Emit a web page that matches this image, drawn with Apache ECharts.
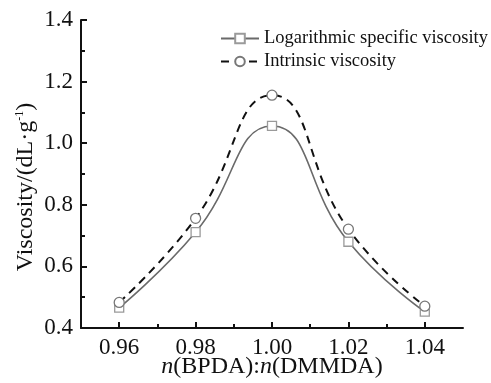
<!DOCTYPE html>
<html>
<head>
<meta charset="utf-8">
<script src="https://cdn.jsdelivr.net/npm/echarts@6/dist/echarts.min.js"></script>
<style>
  html, body { margin: 0; padding: 0; background: #fff; }
  #chart { width: 491px; height: 383px; }
</style>
</head>
<body>
<div id="chart"></div>
<script>
// molar ratios on the x axis
const ratios = [0.96, 0.98, 1.00, 1.02, 1.04];
// viscosity values (dL/g)
const logSpecific = [0.466, 0.711, 1.056, 0.680, 0.453];
const intrinsic = [0.483, 0.756, 1.156, 0.721, 0.471];
const xLabels = [0.96, 0.98, 1.00, 1.02, 1.04];
const xMinor = [0.97, 0.99, 1.01, 1.03];

const serif = "'Liberation Serif', 'Times New Roman', serif";

const myChart = echarts.init(document.getElementById('chart'));

let option = {
    animation: false,
    backgroundColor: '#fff',
    grid: {
        left: 81,
        top: 20,
        right: 28,
        bottom: 55,
        containLabel: false,
        outerBoundsMode: 'none'
    },
    legend: {
        left: 215,
        top: 24,
        orient: 'vertical',
        itemWidth: 38,
        itemHeight: 12,
        itemGap: 4,
        textStyle: {
            fontFamily: serif,
            fontSize: 18.5,
            color: '#111'
        },
        data: ['Logarithmic specific viscosity', 'Intrinsic viscosity']
    },
    xAxis: [
        {
            type: 'value',
            min: 0.95,
            max: 1.05,
            name: '{i|n}(BPDA):{i|n}(DMMDA)',
            nameLocation: 'middle',
            nameGap: 27,
            nameMoveOverlap: false,
            nameTextStyle: {
                fontFamily: serif,
                fontSize: 24,
                color: '#111',
                rich: {
                    i: { fontFamily: serif, fontSize: 24, fontStyle: 'italic', color: '#111' }
                }
            },
            splitLine: { show: false },
            axisLine: { lineStyle: { color: '#111', width: 2 } },
            axisTick: {
                inside: true,
                length: 6,
                customValues: xLabels,
                lineStyle: { color: '#111', width: 2 }
            },
            axisLabel: {
                customValues: xLabels,
                formatter: v => v.toFixed(2),
                fontFamily: serif,
                fontSize: 23,
                color: '#111',
                margin: 8
            }
        },
        {
            // minor ticks only
            type: 'value',
            min: 0.95,
            max: 1.05,
            position: 'bottom',
            splitLine: { show: false },
            axisLine: { show: false },
            axisTick: {
                inside: true,
                length: 4,
                customValues: xMinor,
                lineStyle: { color: '#111', width: 2 }
            },
            axisLabel: { show: false }
        }
    ],
    yAxis: {
        type: 'value',
        min: 0.4,
        max: 1.4,
        interval: 0.2,
        name: 'Viscosity/(dL·g{sup|-1})',
        nameLocation: 'middle',
        nameGap: 43,
        nameMoveOverlap: false,
        nameTextStyle: {
            fontFamily: serif,
            fontSize: 24,
            color: '#111',
            padding: [0, 26, 0, 0],
            rich: {
                sup: { fontFamily: serif, fontSize: 12, color: '#111', verticalAlign: 'top' }
            }
        },
        splitLine: { show: false },
        axisLine: { show: true, lineStyle: { color: '#111', width: 2 } },
        axisTick: {
            inside: true,
            length: 6,
            lineStyle: { color: '#111', width: 2 }
        },
        minorTick: {
            show: true,
            splitNumber: 2,
            length: 4,
            lineStyle: { color: '#111', width: 2 }
        },
        axisLabel: {
            formatter: v => v.toFixed(1),
            fontFamily: serif,
            fontSize: 23,
            color: '#111',
            margin: 8
        }
    },
    series: [
        {
            name: 'Logarithmic specific viscosity',
            type: 'line',
            smooth: 0.5,
            data: ratios.map((r, i) => [r, logSpecific[i]]),
            symbol: 'rect',
            symbolSize: 9,
            lineStyle: { color: '#6a6a6a', width: 1.6 },
            itemStyle: { color: '#fff', borderColor: '#9a9a9a', borderWidth: 1.3 }
        },
        {
            name: 'Intrinsic viscosity',
            type: 'line',
            smooth: 0.5,
            data: ratios.map((r, i) => [r, intrinsic[i]]),
            symbol: 'circle',
            symbolSize: 10,
            lineStyle: { color: '#111', width: 2, type: [8, 6] },
            itemStyle: { color: '#fff', borderColor: '#777', borderWidth: 1.3 }
        }
    ]
};

myChart.setOption(option);
</script>
</body>
</html>
